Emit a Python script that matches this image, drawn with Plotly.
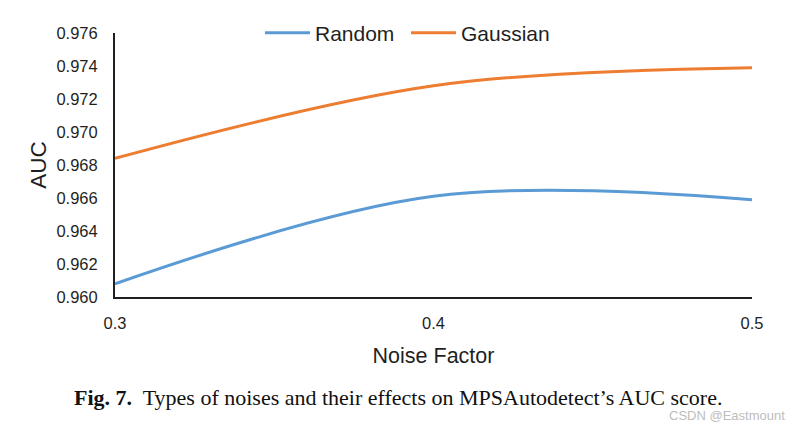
import plotly.graph_objects as go

noise_factor = [0.3, 0.4, 0.5]
random_auc = [0.9608, 0.9661, 0.9659]
gaussian_auc = [0.9684, 0.9728, 0.9739]
x_ticks = [0.3, 0.4, 0.5]
y_ticks = [0.960, 0.962, 0.964, 0.966, 0.968, 0.970, 0.972, 0.974, 0.976]

fig = go.Figure()
fig.add_trace(go.Scatter(x=noise_factor, y=random_auc, mode="lines", name="Random",
                         line=dict(color="#5B9BD5", width=3, shape="spline", smoothing=1.0)))
fig.add_trace(go.Scatter(x=noise_factor, y=gaussian_auc, mode="lines", name="Gaussian",
                         line=dict(color="#ED7D31", width=3, shape="spline", smoothing=1.0)))

fig.update_layout(
    width=790, height=418,
    margin=dict(l=107, r=46, t=25, b=129, autoexpand=False),
    paper_bgcolor="white", plot_bgcolor="white",
    font=dict(family="Liberation Sans, Arial, sans-serif", color="#1f1f1f", size=16.5),
    showlegend=True,
    legend=dict(orientation="h", x=0.2276, xanchor="left", y=1.0, yanchor="middle",
                font=dict(size=21), itemwidth=45, entrywidth=86, entrywidthmode="pixels",
                bgcolor="rgba(0,0,0,0)"),
    xaxis=dict(range=[0.3, 0.5], tickvals=x_ticks, ticktext=["0.3", "0.4", "0.5"],
               showgrid=False, zeroline=False, showline=True, linecolor="#1f1f1f", linewidth=2,
               ticks="", ticklabelstandoff=10,
               title=dict(text="Noise Factor", font=dict(size=21.5), standoff=17)),
    yaxis=dict(range=[0.960, 0.976], tickvals=y_ticks, tickformat=".3f",
               showgrid=False, zeroline=False, showline=True, linecolor="#1f1f1f", linewidth=2,
               ticks="", ticklabelstandoff=12,
               title=dict(text="AUC", font=dict(size=22.5), standoff=4)),
)

fig.add_annotation(xref="paper", yref="paper", x=-0.0675, y=-0.38, xanchor="left", yanchor="middle",
                   showarrow=False,
                   text="<b>Fig. 7.</b>  Types of noises and their effects on MPSAutodetect’s AUC score.",
                   font=dict(family="Liberation Serif, Times New Roman, serif", size=22, color="#111111"))
fig.add_annotation(xref="paper", yref="paper", x=1.055, y=-0.449, xanchor="right", yanchor="middle",
                   showarrow=False, text="CSDN @Eastmount",
                   font=dict(family="Liberation Sans, Arial, sans-serif", size=13, color="#BDBDBD"))

fig.write_html("out.html")
